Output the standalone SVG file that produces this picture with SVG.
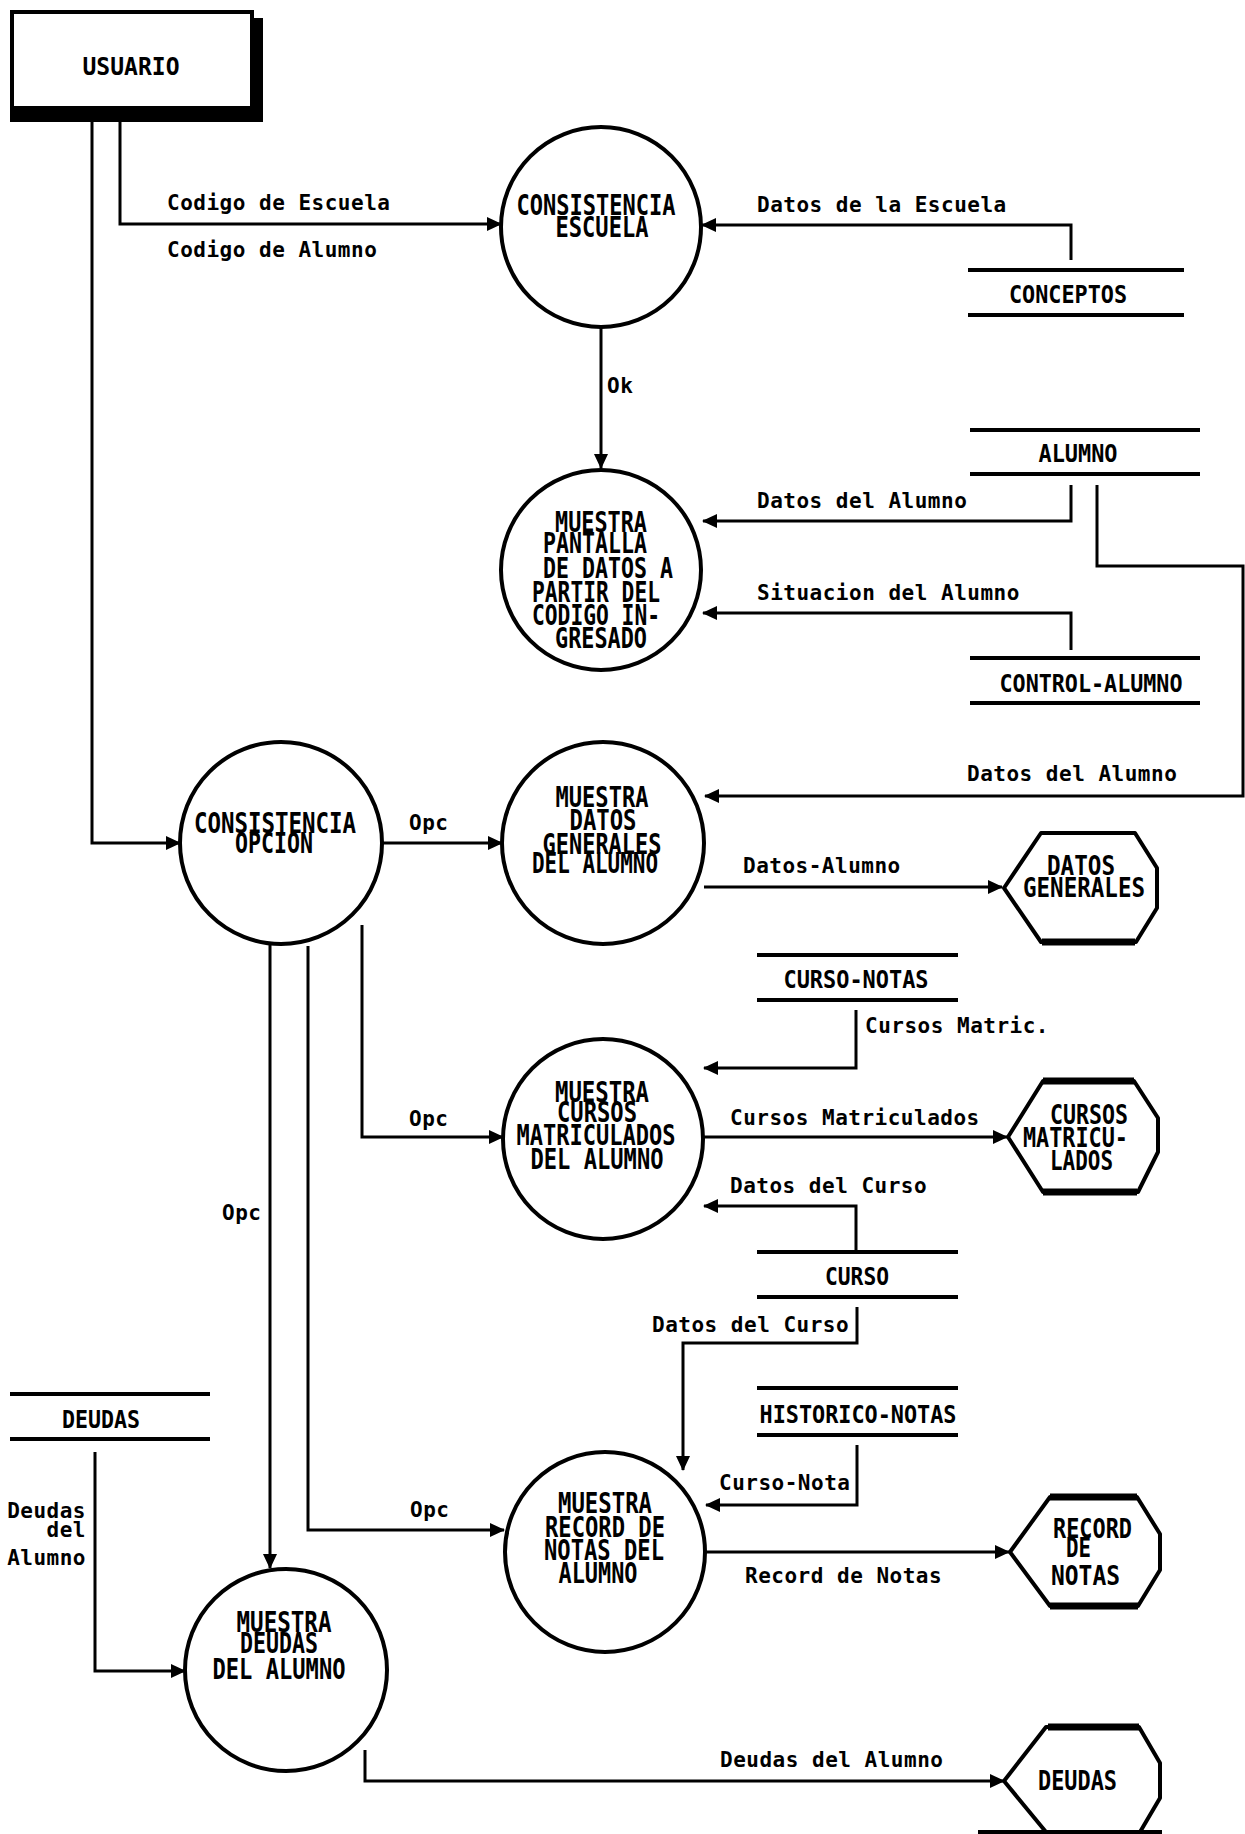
<svg xmlns="http://www.w3.org/2000/svg" width="1245" height="1834" viewBox="0 0 1245 1834">
<defs>
<marker id="ah" markerUnits="userSpaceOnUse" markerWidth="16" markerHeight="16" refX="14" refY="8" orient="auto">
<path d="M0,1 L15,8 L0,15 Z" fill="#000"/>
</marker>
<style>
.bg{fill:#fff}
.proc{fill:#fff;stroke:#000;stroke-width:4}
.store{stroke:#000;stroke-width:4}
.ext{fill:#fff;stroke:#000;stroke-width:4;stroke-linejoin:round}
.extb{stroke:#000;stroke-width:7}
.flow{fill:none;stroke:#000;stroke-width:3}
.flow path{marker-end:url(#ah)}
.lbl{font-family:"DejaVu Sans Mono","Liberation Mono",monospace;font-weight:bold;font-size:21px;letter-spacing:0.5px;fill:#000}
.pt{font-family:"DejaVu Sans Mono","Liberation Mono",monospace;font-weight:bold;font-size:29px;fill:#000;text-anchor:middle}
.st{font-family:"DejaVu Sans Mono","Liberation Mono",monospace;font-weight:bold;font-size:24px;fill:#000;text-anchor:middle}
.et{font-family:"DejaVu Sans Mono","Liberation Mono",monospace;font-weight:bold;font-size:26px;fill:#000}
</style>
</defs>
<rect class="bg" x="0" y="0" width="1245" height="1834"/>

<g id="connectors">
<g class="flow">
<path d="M92,108 V843 H180"/>
<path d="M120,122 V224 H501"/>
<path d="M1071,260 V225 H702"/>
<path d="M601,327 V468"/>
<path d="M1071,485 V521 H703"/>
<path d="M1071,650 V613 H703"/>
<path d="M1097,485 V566 H1243 V796 H705"/>
<path d="M383,843 H502"/>
<path d="M704,887 H1002"/>
<path d="M856,1010 V1068 H704"/>
<path d="M362,925 V1137 H503"/>
<path d="M703,1137 H1007"/>
<path d="M856,1250 V1206 H704"/>
<path d="M857,1307 V1343 H683 V1470"/>
<path d="M857,1445 V1505 H706"/>
<path d="M308,946 V1530 H504"/>
<path d="M705,1552 H1009"/>
<path d="M270,945 V1568"/>
<path d="M95,1452 V1671 H185"/>
<path d="M365,1750 V1781 H1004"/>
</g>
<text class="lbl" x="167" y="210">Codigo de Escuela</text>
<text class="lbl" x="167" y="257">Codigo de Alumno</text>
<text class="lbl" x="757" y="212">Datos de la Escuela</text>
<text class="lbl" x="607" y="393">Ok</text>
<text class="lbl" x="757" y="508">Datos del Alumno</text>
<text class="lbl" x="757" y="600">Situacion del Alumno</text>
<text class="lbl" x="967" y="781">Datos del Alumno</text>
<text class="lbl" x="409" y="830">Opc</text>
<text class="lbl" x="743" y="873">Datos-Alumno</text>
<text class="lbl" x="865" y="1033">Cursos Matric.</text>
<text class="lbl" x="409" y="1126">Opc</text>
<text class="lbl" x="730" y="1125">Cursos Matriculados</text>
<text class="lbl" x="730" y="1193">Datos del Curso</text>
<text class="lbl" x="222" y="1220">Opc</text>
<text class="lbl" x="652" y="1332">Datos del Curso</text>
<text class="lbl" x="719" y="1490">Curso-Nota</text>
<text class="lbl" x="410" y="1517">Opc</text>
<text class="lbl" x="745" y="1583">Record de Notas</text>
<text class="lbl" x="86" y="1518" text-anchor="end">Deudas</text>
<text class="lbl" x="86" y="1537" text-anchor="end">del</text>
<text class="lbl" x="86" y="1565" text-anchor="end">Alumno</text>
<text class="lbl" x="720" y="1767">Deudas del Alumno</text>
</g>

<g id="usuario">
<path d="M252,18 H263 V122 H10 V108 H252 Z" fill="#000"/>
<rect x="12" y="12" width="240" height="96" fill="#fff" stroke="#000" stroke-width="4"/>
<text class="st" x="131" y="75" textLength="97" lengthAdjust="spacingAndGlyphs">USUARIO</text>
</g>

<g id="consistencia-escuela">
<circle class="proc" cx="601" cy="227" r="100"/>
<text class="pt" x="596" y="215" textLength="159" lengthAdjust="spacingAndGlyphs">CONSISTENCIA</text>
<text class="pt" x="602" y="237" textLength="93" lengthAdjust="spacingAndGlyphs">ESCUELA</text>
</g>

<g id="muestra-pantalla">
<circle class="proc" cx="601" cy="570" r="100"/>
<text class="pt" x="601" y="532" textLength="92" lengthAdjust="spacingAndGlyphs">MUESTRA</text>
<text class="pt" x="595" y="553" textLength="104" lengthAdjust="spacingAndGlyphs">PANTALLA</text>
<text class="pt" x="608" y="578" textLength="130" lengthAdjust="spacingAndGlyphs">DE DATOS A</text>
<text class="pt" x="596" y="602" textLength="128" lengthAdjust="spacingAndGlyphs">PARTIR DEL</text>
<text class="pt" x="596" y="625" textLength="128" lengthAdjust="spacingAndGlyphs">CODIGO IN-</text>
<text class="pt" x="601" y="648" textLength="92" lengthAdjust="spacingAndGlyphs">GRESADO</text>
</g>

<g id="consistencia-opcion">
<circle class="proc" cx="281" cy="843" r="101"/>
<text class="pt" x="275" y="833" textLength="162" lengthAdjust="spacingAndGlyphs">CONSISTENCIA</text>
<text class="pt" x="274" y="853" textLength="78" lengthAdjust="spacingAndGlyphs">OPCION</text>
</g>

<g id="muestra-datos-generales">
<circle class="proc" cx="603" cy="843" r="101"/>
<text class="pt" x="602" y="807" textLength="93" lengthAdjust="spacingAndGlyphs">MUESTRA</text>
<text class="pt" x="603" y="830" textLength="67" lengthAdjust="spacingAndGlyphs">DATOS</text>
<text class="pt" x="602" y="854" textLength="119" lengthAdjust="spacingAndGlyphs">GENERALES</text>
<text class="pt" x="595" y="873" textLength="126" lengthAdjust="spacingAndGlyphs">DEL ALUMNO</text>
</g>

<g id="muestra-cursos">
<circle class="proc" cx="603" cy="1139" r="100"/>
<text class="pt" x="602" y="1102" textLength="94" lengthAdjust="spacingAndGlyphs">MUESTRA</text>
<text class="pt" x="597" y="1122" textLength="80" lengthAdjust="spacingAndGlyphs">CURSOS</text>
<text class="pt" x="596" y="1145" textLength="159" lengthAdjust="spacingAndGlyphs">MATRICULADOS</text>
<text class="pt" x="597" y="1169" textLength="133" lengthAdjust="spacingAndGlyphs">DEL ALUMNO</text>
</g>

<g id="muestra-record">
<circle class="proc" cx="605" cy="1552" r="100"/>
<text class="pt" x="605" y="1513" textLength="94" lengthAdjust="spacingAndGlyphs">MUESTRA</text>
<text class="pt" x="605" y="1537" textLength="120" lengthAdjust="spacingAndGlyphs">RECORD DE</text>
<text class="pt" x="604" y="1560" textLength="120" lengthAdjust="spacingAndGlyphs">NOTAS DEL</text>
<text class="pt" x="598" y="1583" textLength="79" lengthAdjust="spacingAndGlyphs">ALUMNO</text>
</g>

<g id="muestra-deudas">
<circle class="proc" cx="286" cy="1670" r="101"/>
<text class="pt" x="284" y="1632" textLength="95" lengthAdjust="spacingAndGlyphs">MUESTRA</text>
<text class="pt" x="279" y="1653" textLength="78" lengthAdjust="spacingAndGlyphs">DEUDAS</text>
<text class="pt" x="279" y="1679" textLength="133" lengthAdjust="spacingAndGlyphs">DEL ALUMNO</text>
</g>

<g id="store-conceptos">
<line class="store" x1="968" y1="270" x2="1184" y2="270"/>
<line class="store" x1="968" y1="315" x2="1184" y2="315"/>
<text class="st" x="1068" y="303" textLength="118" lengthAdjust="spacingAndGlyphs">CONCEPTOS</text>
</g>

<g id="store-alumno">
<line class="store" x1="970" y1="430" x2="1200" y2="430"/>
<line class="store" x1="970" y1="474" x2="1200" y2="474"/>
<text class="st" x="1078" y="462" textLength="79" lengthAdjust="spacingAndGlyphs">ALUMNO</text>
</g>

<g id="store-control-alumno">
<line class="store" x1="970" y1="658" x2="1200" y2="658"/>
<line class="store" x1="970" y1="703" x2="1200" y2="703"/>
<text class="st" x="1091" y="692" textLength="183" lengthAdjust="spacingAndGlyphs">CONTROL-ALUMNO</text>
</g>

<g id="store-curso-notas">
<line class="store" x1="757" y1="955" x2="958" y2="955"/>
<line class="store" x1="757" y1="1000" x2="958" y2="1000"/>
<text class="st" x="856" y="988" textLength="145" lengthAdjust="spacingAndGlyphs">CURSO-NOTAS</text>
</g>

<g id="store-curso">
<line class="store" x1="757" y1="1252" x2="958" y2="1252"/>
<line class="store" x1="757" y1="1297" x2="958" y2="1297"/>
<text class="st" x="857" y="1285" textLength="64" lengthAdjust="spacingAndGlyphs">CURSO</text>
</g>

<g id="store-historico-notas">
<line class="store" x1="757" y1="1388" x2="958" y2="1388"/>
<line class="store" x1="757" y1="1435" x2="958" y2="1435"/>
<text class="st" x="858" y="1423" textLength="197" lengthAdjust="spacingAndGlyphs">HISTORICO-NOTAS</text>
</g>

<g id="store-deudas">
<line class="store" x1="10" y1="1394" x2="210" y2="1394"/>
<line class="store" x1="10" y1="1439" x2="210" y2="1439"/>
<text class="st" x="101" y="1428" textLength="78" lengthAdjust="spacingAndGlyphs">DEUDAS</text>
</g>

<g id="ext-datos-generales">
<path class="ext" d="M1004,888 L1041,833 H1135 L1157,868 V908 L1136,942 H1041 Z"/>
<line class="extb" x1="1042" y1="942" x2="1135" y2="942"/>
<text class="et" x="1047" y="875" textLength="68" lengthAdjust="spacingAndGlyphs">DATOS</text>
<text class="et" x="1023" y="897" textLength="122" lengthAdjust="spacingAndGlyphs">GENERALES</text>
</g>

<g id="ext-cursos-matriculados">
<path class="ext" d="M1008,1137 L1043,1081 H1134 L1158,1118 V1152 L1138,1192 H1043 Z"/>
<line class="extb" x1="1043" y1="1081" x2="1134" y2="1081"/>
<line class="extb" x1="1043" y1="1192" x2="1137" y2="1192"/>
<text class="et" x="1050" y="1124" textLength="78" lengthAdjust="spacingAndGlyphs">CURSOS</text>
<text class="et" x="1023" y="1147" textLength="105" lengthAdjust="spacingAndGlyphs">MATRICU-</text>
<text class="et" x="1050" y="1170" textLength="63" lengthAdjust="spacingAndGlyphs">LADOS</text>
</g>

<g id="ext-record-notas">
<path class="ext" d="M1010,1552 L1050,1497 H1137 L1160,1534 V1570 L1138,1606 H1050 Z"/>
<line class="extb" x1="1050" y1="1497" x2="1137" y2="1497"/>
<line class="extb" x1="1050" y1="1606" x2="1138" y2="1606"/>
<text class="et" x="1053" y="1538" textLength="79" lengthAdjust="spacingAndGlyphs">RECORD</text>
<text class="et" x="1066" y="1557" textLength="25" lengthAdjust="spacingAndGlyphs">DE</text>
<text class="et" x="1051" y="1585" textLength="69" lengthAdjust="spacingAndGlyphs">NOTAS</text>
</g>

<g id="ext-deudas">
<path class="ext" d="M1004,1781 L1046,1727 H1139 L1160,1763 V1798 L1140,1832 H1046 Z"/>
<line class="extb" x1="1048" y1="1727" x2="1139" y2="1727"/>
<line class="store" x1="978" y1="1832" x2="1162" y2="1832"/>
<text class="et" x="1038" y="1790" textLength="79" lengthAdjust="spacingAndGlyphs">DEUDAS</text>
</g>
</svg>
